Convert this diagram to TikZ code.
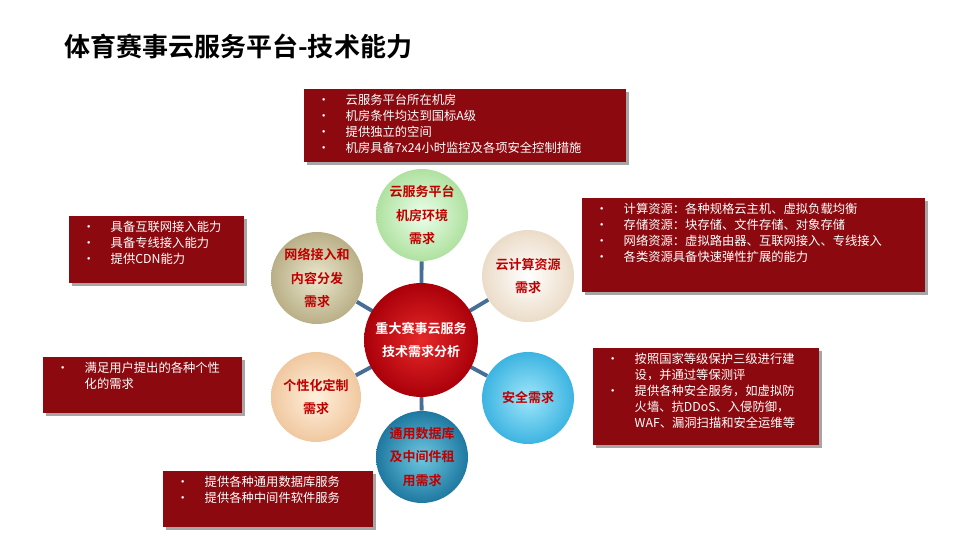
\documentclass[tikz,border=0pt]{standalone}
\usepackage{fontspec}
\setmainfont{Noto Sans CJK SC}
\newfontfamily\cjkb{Noto Sans CJK SC Bold}
\begin{document}
\begin{tikzpicture}[x=0.02cm,y=-0.02cm,
  bub/.style={circle,minimum size=#1*0.04cm,inner sep=0pt,align=center,font=\cjkb\fontsize{7.4}{13.2}\selectfont,text=red!75!black},
  lnk/.style={draw={rgb,255:red,70;green,110;blue,150},line width=2.2pt}]
\definecolor{dred}{RGB}{140,10,15}
\useasboundingbox (0,0) rectangle (960,540);
\fill[white] (0,0) rectangle (960,540);
\node[anchor=west,inner sep=0pt,font=\cjkb\fontsize{14.8}{18}\selectfont] (title) at (64,47) {体育赛事云服务平台-技术能力};
\newcommand{\bl}{\makebox[19pt][l]{\hspace{3pt}\textbullet}}
\newcommand{\ind}{\hspace*{19pt}}
\newcommand{\rb}[5]{%
 \fill[black!35] (#1+3,#2+3) rectangle (#3+3,#4+3);
 \fill[dred] (#1,#2) rectangle (#3,#4);
 \node[anchor=north west,text=white,inner sep=0pt,align=left,font=\fontsize{7}{9.1}\selectfont] at (#1+8,#2+5) {#5};}
\rb{304}{89}{626}{162}{\bl 云服务平台所在机房\\\bl 机房条件均达到国标A级\\\bl 提供独立的空间\\\bl 机房具备7x24小时监控及各项安全控制措施}
\rb{582}{198}{925}{292}{\bl 计算资源：各种规格云主机、虚拟负载均衡\\\bl 存储资源：块存储、文件存储、对象存储\\\bl 网络资源：虚拟路由器、互联网接入、专线接入\\\bl 各类资源具备快速弹性扩展的能力}
\rb{69}{216}{244}{283}{\bl 具备互联网接入能力\\\bl 具备专线接入能力\\\bl 提供CDN能力}
\rb{43}{357}{242}{413}{\bl 满足用户提出的各种个性\\\ind 化的需求}
\rb{593}{348}{819}{445}{\bl 按照国家等级保护三级进行建\\\ind 设，并通过等保测评\\\bl 提供各种安全服务，如虚拟防\\\ind 火墙、抗DDoS、入侵防御，\\\ind WAF、漏洞扫描和安全运维等}
\rb{163}{471}{373}{527}{\bl 提供各种通用数据库服务\\\bl 提供各种中间件软件服务}
\coordinate (c) at (421,340);
\node[bub=46,shade,inner color=green!8,outer color={rgb,255:red,175;green,225;blue,160}] (t) at (422,215) {云服务平台\\机房环境\\需求};
\node[bub=46,shade,inner color=white,outer color={rgb,255:red,235;green,220;blue,200}] (ur) at (528,276) {云计算资源\\需求};
\node[bub=46,shade,inner color={rgb,255:red,235;green,232;blue,205},outer color={rgb,255:red,185;green,175;blue,135}] (ul) at (317,278) {网络接入和\\内容分发\\需求};
\node[bub=45,shade,inner color={rgb,255:red,255;green,240;blue,220},outer color={rgb,255:red,240;green,200;blue,160}] (ll) at (316,397) {个性化定制\\需求};
\node[bub=46,shade,inner color={rgb,255:red,160;green,230;blue,250},outer color={rgb,255:red,60;green,180;blue,225}] (lr) at (528,398) {安全需求};
\node[bub=46,shade,inner color={rgb,255:red,110;green,200;blue,225},outer color={rgb,255:red,30;green,120;blue,160}] (b) at (422,457) {通用数据库\\及中间件租\\用需求};
\foreach \n in {t,ur,ul,ll,lr,b} \draw[lnk] (c) -- (\n);
\node[bub=57,shade,inner color={rgb,255:red,230;green,40;blue,40},outer color={rgb,255:red,170;green,0;blue,10},text=white,font=\cjkb\fontsize{7.4}{13.6}\selectfont] (m) at (c) {重大赛事云服务\\技术需求分析};
\end{tikzpicture}
\end{document}
